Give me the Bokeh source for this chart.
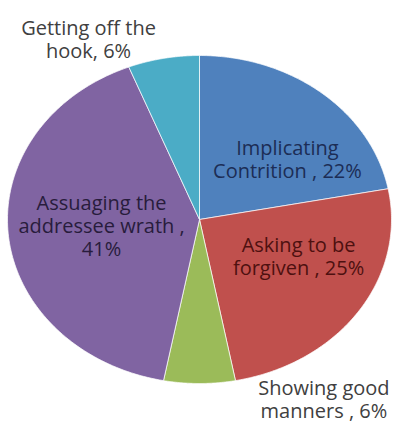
import numpy as np
from bokeh.plotting import figure
from bokeh.models import Range1d, ColumnDataSource
from bokeh.core.properties import value
from bokeh.embed import file_html
from bokeh.resources import INLINE

# ---- data ----
categories = ["Implicating\nContrition ", "Asking to be\nforgiven ", "Showing good\nmanners ",
              "Assuaging the\naddressee wrath ", "Getting off the\nhook"]
values = [22, 25, 6, 41, 6]
separators = [", ", ", ", ", ", ",\n", ", "]

# ---- styles / layout ----
slice_colors = ["#4F81BD", "#C0504D", "#9BBB59", "#8064A2", "#4BACC6"]
text_colors = ["#1c2d55", "#4e1010", "#404040", "#281c3c", "#404040"]
# label anchor positions in unit-pie coordinates (layout)
label_x = [0.458, 0.516, 0.648, -0.510, -0.578]
label_y = [0.369, -0.220, -1.094, -0.037, 1.098]

W, H = 396, 425
CX, CY, RX, RY = 199, 219, 192, 164   # pixel centre and radii of the (elliptical) pie

p = figure(width=W, height=H,
           x_range=Range1d(-CX / RX, (W - CX) / RX),
           y_range=Range1d((CY - H) / RY, CY / RY),
           output_backend="svg", toolbar_location=None, min_border=0,
           outline_line_color=None, background_fill_color="white")
p.axis.visible = False
p.grid.visible = False

total = float(sum(values))
cum = np.concatenate([[0.0], np.cumsum(values) / total])
xs, ys = [], []
for i in range(len(values)):
    a0 = np.pi / 2 - 2 * np.pi * cum[i]
    a1 = np.pi / 2 - 2 * np.pi * cum[i + 1]
    t = np.linspace(a0, a1, 120)
    xs.append([0.0] + list(np.cos(t)))
    ys.append([0.0] + list(np.sin(t)))

p.patches(xs=xs, ys=ys, fill_color=slice_colors, line_color="white",
          line_width=1, line_alpha=0.7)

labels = [f"{c}{s}{v}%" for c, s, v in zip(categories, separators, values)]
src = ColumnDataSource(dict(x=label_x, y=label_y, text=labels, color=text_colors))
p.text(x="x", y="y", text="text", source=src, text_color="color",
       text_align="center", text_baseline="middle",
       text_font=value("Open Sans"), text_font_size="20px", text_line_height=0.85)

open("out.html", "w").write(file_html(p, INLINE))
